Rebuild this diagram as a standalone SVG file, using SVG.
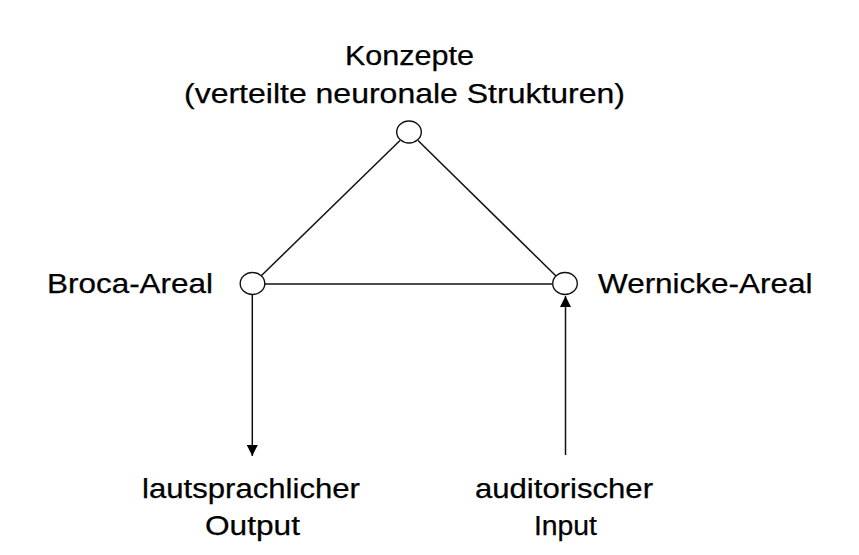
<svg xmlns="http://www.w3.org/2000/svg" width="859" height="555" viewBox="0 0 859 555">
<style>
text{font-family:"Liberation Sans",Arial,sans-serif;font-size:27.5px;fill:#000;stroke:#000;stroke-width:0.25;}
.c{text-anchor:start;}
.n{fill:#fff;stroke:#111;stroke-width:1.4;}
.l{stroke:#111;stroke-width:1.5;fill:none;}
</style>
<defs>
<marker id="ah" viewBox="0 0 10 10" refX="10" refY="5" markerWidth="11" markerHeight="11" markerUnits="userSpaceOnUse" orient="auto">
<path d="M0,0 L10,5 L0,10 z" fill="#000"/>
</marker>
</defs>
<rect width="859" height="555" fill="#fff"/>
<g id="connectors">
<line class="l" x1="400" y1="140.5" x2="261" y2="276"/>
<line class="l" x1="418" y1="140.5" x2="556" y2="276"/>
<line class="l" x1="265" y1="284" x2="552" y2="284"/>
<line class="l" x1="252.3" y1="295" x2="252.3" y2="456" marker-end="url(#ah)"/>
<line class="l" x1="565.5" y1="455" x2="565.5" y2="296" marker-end="url(#ah)"/>
</g>
<g id="konzepte">
<ellipse class="n" cx="409" cy="132" rx="12.3" ry="11"/>
<text class="c" x="345" y="65" textLength="129" lengthAdjust="spacingAndGlyphs">Konzepte</text>
<text class="c" x="184" y="103" textLength="441" lengthAdjust="spacingAndGlyphs">(verteilte neuronale Strukturen)</text>
</g>
<g id="broca">
<ellipse class="n" cx="252.5" cy="283.5" rx="12.3" ry="11"/>
<text class="c" x="47" y="292.5" textLength="166" lengthAdjust="spacingAndGlyphs">Broca-Areal</text>
</g>
<g id="wernicke">
<ellipse class="n" cx="565" cy="283.5" rx="12.3" ry="11"/>
<text class="c" x="598" y="293" textLength="214.5" lengthAdjust="spacingAndGlyphs">Wernicke-Areal</text>
</g>
<g id="output">
<text class="c" x="142" y="497.5" textLength="218" lengthAdjust="spacingAndGlyphs">lautsprachlicher</text>
<text class="c" x="205" y="535" textLength="95" lengthAdjust="spacingAndGlyphs">Output</text>
</g>
<g id="input">
<text class="c" x="475" y="497.5" textLength="178" lengthAdjust="spacingAndGlyphs">auditorischer</text>
<text class="c" x="534" y="535" textLength="63" lengthAdjust="spacingAndGlyphs">Input</text>
</g>
</svg>
